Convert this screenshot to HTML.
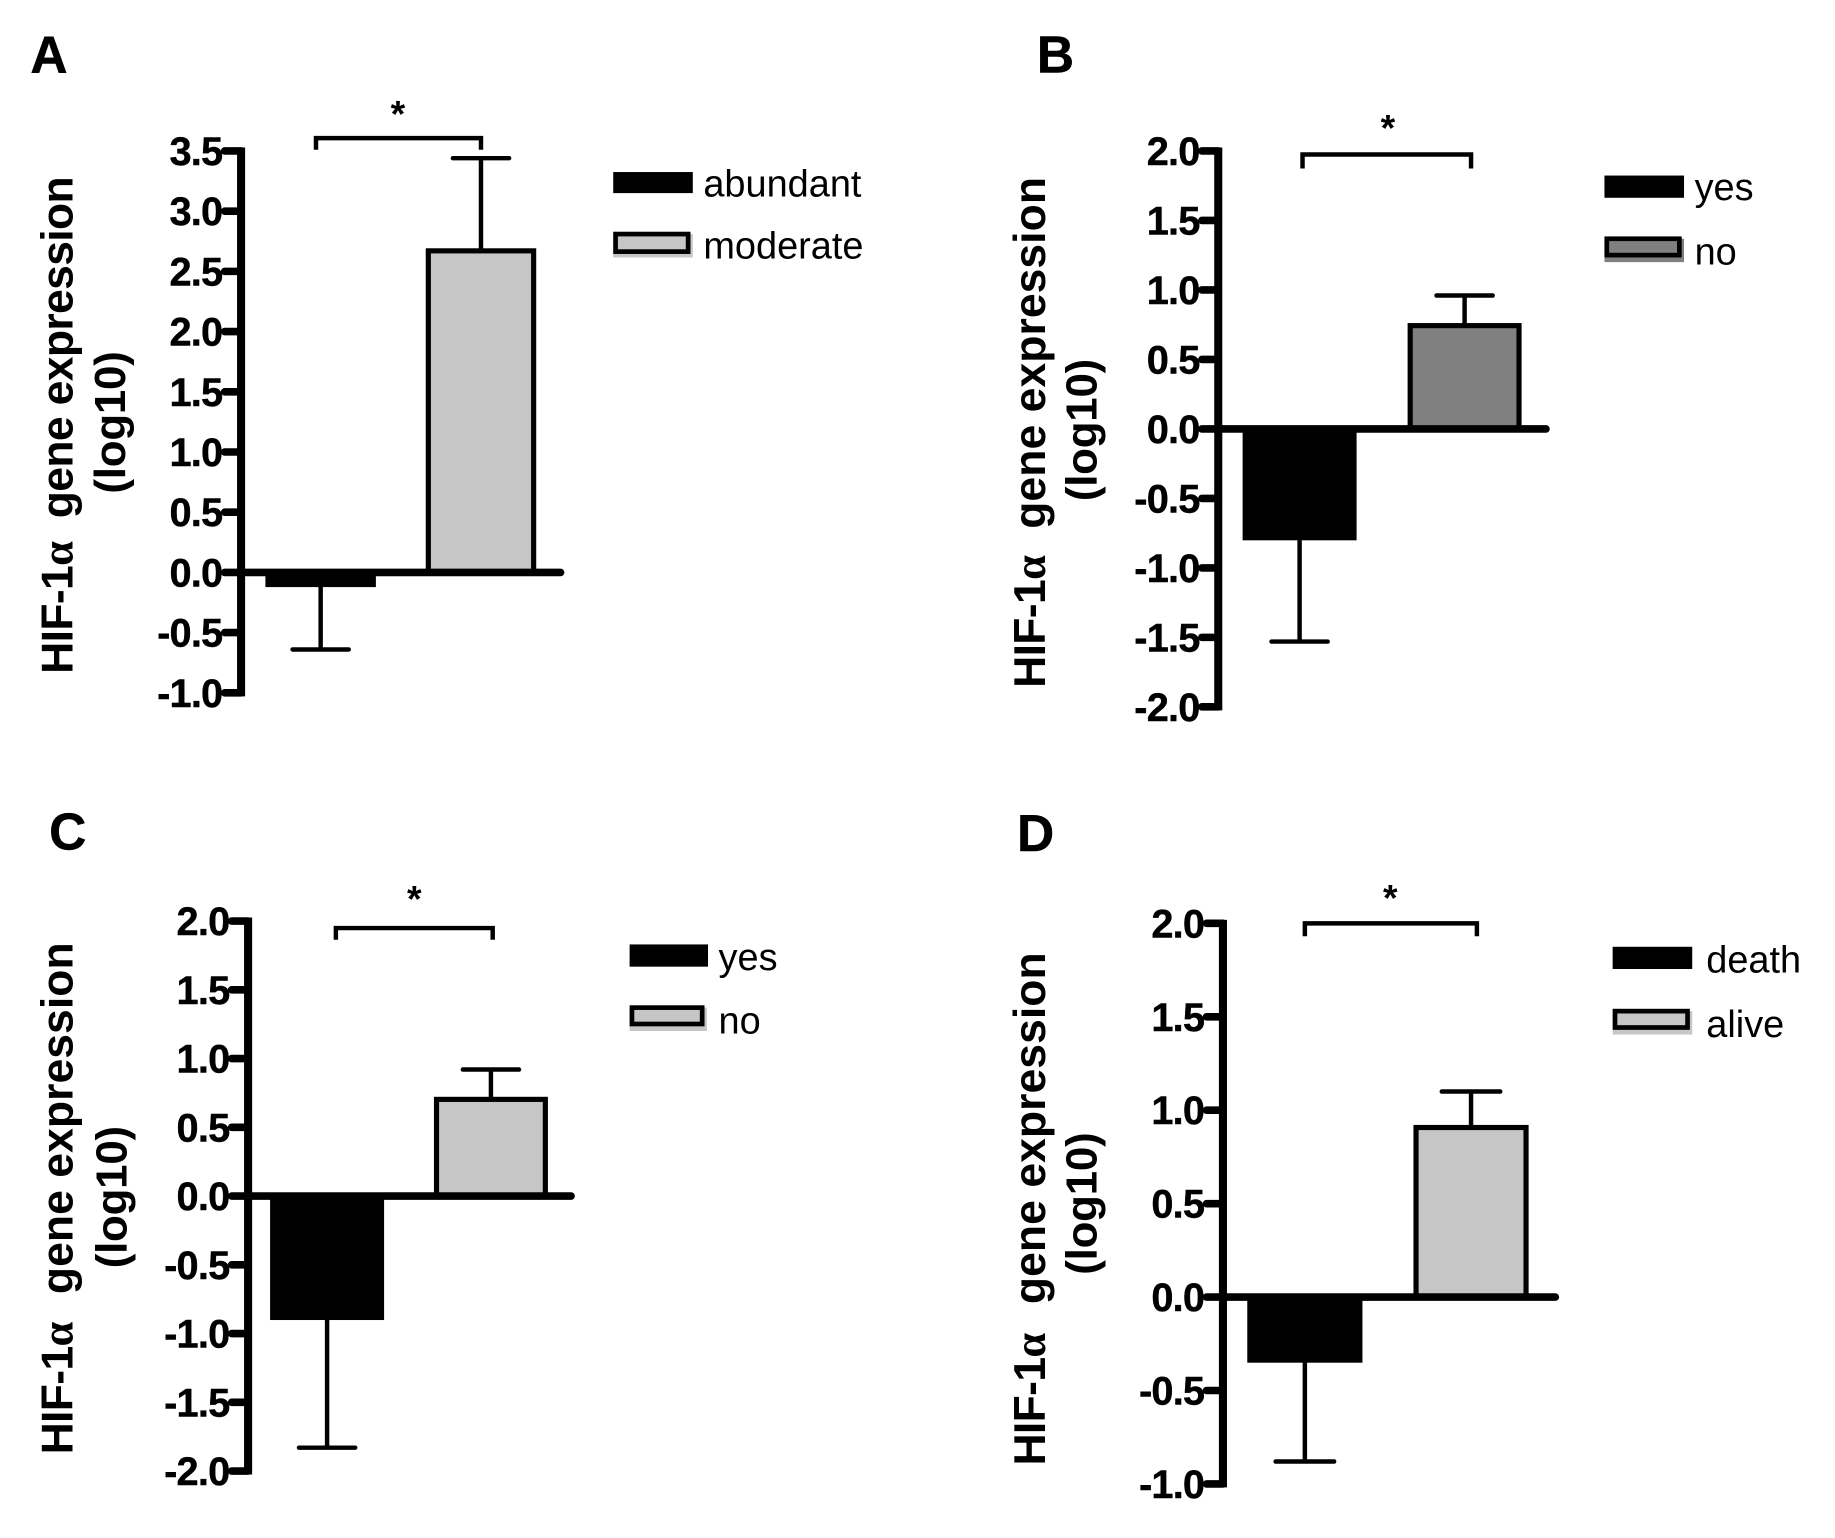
<!DOCTYPE html>
<html lang="en">
<head>
<meta charset="utf-8">
<title>HIF-1α gene expression panels</title>
<style>
html,body{margin:0;padding:0;background:#fff;}
svg{display:block;}
text{font-family:"Liberation Sans",sans-serif;fill:#000;white-space:pre;}
.letter{font-size:44px;font-weight:bold;stroke:#000;stroke-width:0.4px;}
.ytitle{font-size:38px;font-weight:bold;text-anchor:middle;letter-spacing:-0.55px;}
.ytitle .alpha{font-family:"Liberation Serif",serif;}
.ytitle .wide{letter-spacing:0.05px;}
.yunit{font-size:37.5px;font-weight:bold;text-anchor:middle;letter-spacing:-0.2px;}
.legend{font-size:32.4px;}
.star{font-size:32px;font-weight:bold;text-anchor:middle;}
.tick{font-size:34px;font-weight:bold;text-anchor:end;letter-spacing:-0.7px;stroke:#000;stroke-width:0.35px;}
</style>
</head>
<body>
<svg id="figure" xmlns="http://www.w3.org/2000/svg" width="1835" height="1538" viewBox="0 0 1568 1314.2">
<rect x="0" y="0" width="1568" height="1315" fill="#fff"/>

<g id="panel-a">
<text class="letter" x="26" y="62">A</text>
<text class="ytitle" transform="translate(62,363.5) rotate(-90)">HIF-1<tspan class="alpha">α</tspan>  gene expression</text>
<text class="yunit" transform="translate(107,361) rotate(-90)">(log10)</text>
<text class="star" x="340" y="108">*</text>
<g>
<rect x="524" y="147" width="68" height="18" fill="#000"/>
<text class="legend" x="601" y="168">abundant</text>
<rect x="524" y="200" width="68" height="20" fill="#c6c6c6"/>
<rect x="526" y="200" width="62" height="15" fill="#c6c6c6" stroke="#000" stroke-width="4"/>
<text class="legend" x="601" y="221">moderate</text>
</g>
</g>

<g id="panel-b">
<text class="letter" x="886" y="62">B</text>
<text class="ytitle" transform="translate(893,369.5) rotate(-90)">HIF-1<tspan class="alpha">α</tspan>  <tspan class="wide" dx="3">gene expression</tspan></text>
<text class="yunit" transform="translate(937,367.5) rotate(-90)">(log10)</text>
<text class="star" x="1186" y="120">*</text>
<g>
<rect x="1371" y="150" width="68" height="19" fill="#000"/>
<text class="legend" x="1448" y="171">yes</text>
<rect x="1371" y="204" width="68" height="20" fill="#808080"/>
<rect x="1373" y="204" width="62" height="14" fill="#808080" stroke="#000" stroke-width="4"/>
<text class="legend" x="1448" y="226">no</text>
</g>
</g>

<g id="panel-c">
<text class="letter" x="42" y="726">C</text>
<text class="ytitle" transform="translate(62,1024) rotate(-90)">HIF-1<tspan class="alpha">α</tspan>  <tspan class="wide" dx="4">gene expression</tspan></text>
<text class="yunit" transform="translate(108,1023) rotate(-90)">(log10)</text>
<text class="star" x="354" y="779">*</text>
<g>
<rect x="538" y="807" width="67" height="19" fill="#000"/>
<text class="legend" x="614" y="829">yes</text>
<rect x="538" y="861" width="66" height="20" fill="#c6c6c6"/>
<rect x="540" y="861" width="60" height="14" fill="#c6c6c6" stroke="#000" stroke-width="4"/>
<text class="legend" x="614" y="883">no</text>
</g>
</g>

<g id="panel-d">
<text class="letter" x="869" y="727">D</text>
<text class="ytitle" transform="translate(893,1033) rotate(-90)">HIF-1<tspan class="alpha">α</tspan>  <tspan class="wide" dx="5">gene expression</tspan></text>
<text class="yunit" transform="translate(937,1028.5) rotate(-90)">(log10)</text>
<text class="star" x="1188" y="778">*</text>
<g>
<rect x="1378" y="809" width="68" height="19" fill="#000"/>
<text class="legend" x="1458" y="831">death</text>
<rect x="1378" y="864" width="68" height="20" fill="#c6c6c6"/>
<rect x="1380" y="864" width="62" height="14" fill="#c6c6c6" stroke="#000" stroke-width="4"/>
<text class="legend" x="1458" y="886">alive</text>
</g>
</g>
</svg>

<script>
// Panel A data
const panelACategories = ["abundant", "moderate"];
const panelAValues = [-0.12, 2.69];
const panelAErrors = [0.52, 0.75];
const panelATickLabels = ["3.5", "3.0", "2.5", "2.0", "1.5", "1.0", "0.5", "0.0", "-0.5", "-1.0"];

// Panel B data
const panelBCategories = ["yes", "no"];
const panelBValues = [-0.80, 0.76];
const panelBErrors = [0.73, 0.20];
const panelBTickLabels = ["2.0", "1.5", "1.0", "0.5", "0.0", "-0.5", "-1.0", "-1.5", "-2.0"];

// Panel C data
const panelCCategories = ["yes", "no"];
const panelCValues = [-0.90, 0.72];
const panelCErrors = [0.93, 0.20];
const panelCTickLabels = ["2.0", "1.5", "1.0", "0.5", "0.0", "-0.5", "-1.0", "-1.5", "-2.0"];

// Panel D data
const panelDCategories = ["death", "alive"];
const panelDValues = [-0.35, 0.92];
const panelDErrors = [0.53, 0.18];
const panelDTickLabels = ["2.0", "1.5", "1.0", "0.5", "0.0", "-0.5", "-1.0"];

const SVG_NS = "http://www.w3.org/2000/svg";

function makeLine(parent, x1, y1, x2, y2, width, cap) {
  const el = document.createElementNS(SVG_NS, "line");
  el.setAttribute("x1", x1);
  el.setAttribute("y1", y1);
  el.setAttribute("x2", x2);
  el.setAttribute("y2", y2);
  el.setAttribute("stroke", "#000");
  el.setAttribute("stroke-width", width);
  el.setAttribute("stroke-linecap", cap || "butt");
  parent.appendChild(el);
  return el;
}

function drawPanel(groupId, categories, values, errors, tickLabels, fill, frame) {
  const group = document.getElementById(groupId);
  const tickValues = tickLabels.map(Number);
  const maxValue = Math.max.apply(null, tickValues);
  const minValue = Math.min.apply(null, tickValues);
  const yScale = function (v) {
    return frame.yTop + (maxValue - v) / (maxValue - minValue) * (frame.yBottom - frame.yTop);
  };
  const xBar = function (i) {
    return frame.firstBarX + i * frame.barStep;
  };

  // bars and error bars are painted first so the axis sits on top
  values.forEach(function (value, i) {
    const isNegative = value < 0;
    const barTop = Math.min(yScale(value), yScale(0));
    const barHeight = Math.abs(yScale(value) - yScale(0));
    const center = xBar(i) + frame.barWidth / 2;
    const tip = yScale(value + (isNegative ? -errors[i] : errors[i]));

    const errorStem = makeLine(group, center, yScale(value), center, tip, 3.8);
    
    

    const errorCap = makeLine(group, center - frame.capHalf, tip, center + frame.capHalf, tip, 3.8, "round");
    
    

    const bar = document.createElementNS(SVG_NS, "rect");
    bar.setAttribute("x", xBar(i) + 2);
    bar.setAttribute("y", barTop + (isNegative ? 0 : 2));
    bar.setAttribute("width", frame.barWidth - 4);
    bar.setAttribute("height", Math.max(barHeight - 2, 0));
    bar.setAttribute("fill", isNegative ? "#000" : fill);
    bar.setAttribute("stroke", "#000");
    bar.setAttribute("stroke-width", "4.4");
    
    
    group.appendChild(bar);
  });

  const axis = makeLine(group, frame.axisX, frame.yTop - 3, frame.axisX, frame.yBottom + 3, 6.9);
  
  

  const baseline = makeLine(group, frame.axisX, yScale(0), frame.zeroEnd, yScale(0), 6.5, "round");
  
  

  tickLabels.forEach(function (label) {
    const y = yScale(Number(label));
    const tick = makeLine(group, frame.axisX - 14, y, frame.axisX, y, 6.5, "round");
    
    

    const text = document.createElementNS(SVG_NS, "text");
    text.setAttribute("class", "tick");
    text.setAttribute("x", frame.axisX - 16);
    text.setAttribute("y", y + 12);
    text.textContent = label;
    
    
    group.appendChild(text);
  });

  const bracket = document.createElementNS(SVG_NS, "path");
  bracket.setAttribute("d", "M" + frame.bracketX1 + " " + frame.bracketDrop + "V" + frame.bracketY + "H" + frame.bracketX2 + "V" + frame.bracketDrop);
  bracket.setAttribute("fill", "none");
  bracket.setAttribute("stroke", "#000");
  bracket.setAttribute("stroke-width", "3.8");
  
  
  group.appendChild(bracket);
}

drawPanel("panel-a", panelACategories, panelAValues, panelAErrors, panelATickLabels, "#c6c6c6", {
  axisX: 206, yTop: 129, yBottom: 592, zeroEnd: 479,
  firstBarX: 227, barStep: 137, barWidth: 94, capHalf: 24,
  bracketX1: 270, bracketX2: 411, bracketY: 118, bracketDrop: 128
});
drawPanel("panel-b", panelBCategories, panelBValues, panelBErrors, panelBTickLabels, "#808080", {
  axisX: 1041, yTop: 129, yBottom: 604, zeroEnd: 1321,
  firstBarX: 1062, barStep: 141, barWidth: 97, capHalf: 24,
  bracketX1: 1113, bracketX2: 1257, bracketY: 132, bracketDrop: 144
});
drawPanel("panel-c", panelCCategories, panelCValues, panelCErrors, panelCTickLabels, "#c6c6c6", {
  axisX: 212, yTop: 787, yBottom: 1257, zeroEnd: 488,
  firstBarX: 231, barStep: 140, barWidth: 97, capHalf: 24,
  bracketX1: 287, bracketX2: 421, bracketY: 793, bracketDrop: 803
});
drawPanel("panel-d", panelDCategories, panelDValues, panelDErrors, panelDTickLabels, "#c6c6c6", {
  axisX: 1045, yTop: 789, yBottom: 1268, zeroEnd: 1329,
  firstBarX: 1066, barStep: 142, barWidth: 98, capHalf: 25,
  bracketX1: 1115, bracketX2: 1262, bracketY: 789, bracketDrop: 800
});
</script>
</body>
</html>
